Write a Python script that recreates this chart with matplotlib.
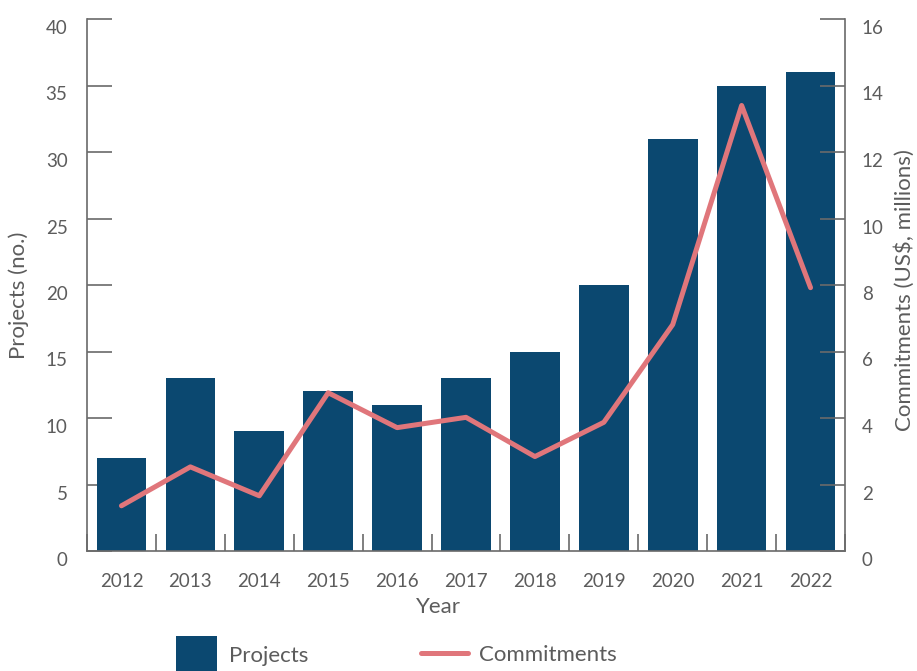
import matplotlib
matplotlib.use("Agg")
import matplotlib.pyplot as plt
import matplotlib.transforms as mtransforms
from matplotlib.patches import Patch
from matplotlib.lines import Line2D
import numpy as np

years = ["2012", "2013", "2014", "2015", "2016", "2017", "2018", "2019", "2020", "2021", "2022"]
projects = [7, 13, 9, 12, 11, 13, 15, 20, 31, 35, 36]
commitments = [1.36, 2.53, 1.66, 4.76, 3.71, 4.02, 2.84, 3.87, 6.81, 13.4, 7.92]
left_ticks = [0, 5, 10, 15, 20, 25, 30, 35, 40]
right_ticks = [0, 2, 4, 6, 8, 10, 12, 14, 16]

BAR = "#0b4870"
LINE = "#e0767b"
TXT = "#5c5c5c"
SPINE = "#6a6a6a"

plt.rcParams['font.family'] = ['Lato', 'DejaVu Sans']

W, H = 917, 671
fig = plt.figure(figsize=(W / 100, H / 100), dpi=100)
ax = fig.add_axes([87 / W, 1 - 551 / H, (845 - 87) / W, (551 - 19) / H])
ax2 = ax.twinx()

x = np.arange(len(years))
ax.bar(x, projects, width=0.72, color=BAR, zorder=2)
ax2.plot(x, commitments, color=LINE, lw=3.6, solid_capstyle='round', solid_joinstyle='round', zorder=3)

ax.set_xlim(-0.5, len(years) - 0.5)
ax.set_ylim(0, 40)
ax2.set_ylim(0, 16)
ax.set_yticks(left_ticks)
ax2.set_yticks(right_ticks)
ax.set_xticks(x)
ax.set_xticklabels(years)
ax.set_xticks(np.arange(-0.5, len(years), 1.0), minor=True)

for a in (ax, ax2):
    a.spines['top'].set_visible(False)
    for s in a.spines.values():
        s.set_color(SPINE)
        s.set_linewidth(1.2)
ax.spines['right'].set_visible(False)
ax2.spines['left'].set_visible(False)
ax2.spines['bottom'].set_visible(False)

fs = 13.5
lfs = 16
ax.tick_params(axis='y', direction='in', length=18, width=1.2, color=SPINE,
               labelsize=fs, labelcolor=TXT, pad=14)
ax2.tick_params(axis='y', direction='in', length=18, width=1.2, color=SPINE,
                labelsize=fs, labelcolor=TXT, pad=12)
ax.tick_params(axis='x', which='major', length=0, labelsize=fs, labelcolor=TXT, pad=16)
ax.tick_params(axis='x', which='minor', direction='in', length=12, width=1.2, color=SPINE)

off = mtransforms.ScaledTranslation(0, -8 / 100, fig.dpi_scale_trans)
for lab in ax.get_yticklabels() + ax2.get_yticklabels():
    lab.set_transform(lab.get_transform() + off)

ax.set_xlabel("Year", fontsize=lfs, color=TXT)
ax.xaxis.set_label_coords((438 - 87) / (845 - 87), -(607 - 551) / (551 - 19))
ax.xaxis.label.set_va('center')
ax.set_ylabel("Projects (no.)", fontsize=lfs, color=TXT)
ax.yaxis.set_label_coords(-(87 - 19) / (845 - 87), 0.48)
ax.yaxis.label.set_va('center')
ax2.set_ylabel("Commitments (US$, millions)", fontsize=lfs, color=TXT, rotation=90)
ax2.yaxis.set_label_coords(1 + (905 - 845) / (845 - 87), 0.49)
ax2.yaxis.label.set_va('center')
ax2.yaxis.label.set_ha('center')

leg1 = fig.legend(handles=[Patch(facecolor=BAR, edgecolor='none', label='Projects')],
                  loc='center left', bbox_to_anchor=(176 / W, 1 - 655 / H), frameon=False,
                  fontsize=16, labelcolor=TXT, handlelength=1.85, handleheight=2.2,
                  handletextpad=0.55, borderaxespad=0, borderpad=0)
leg2 = fig.legend(handles=[Line2D([0], [0], color=LINE, lw=3.6, solid_capstyle='round', label='Commitments')],
                  loc='center left', bbox_to_anchor=(421 / W, 1 - 655 / H), frameon=False,
                  fontsize=16, labelcolor=TXT, handlelength=2.1,
                  handletextpad=0.5, borderaxespad=0, borderpad=0)

fig.savefig("out.png", dpi=100)
